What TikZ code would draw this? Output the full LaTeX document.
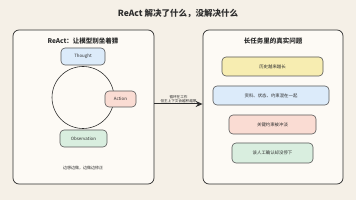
\documentclass[tikz,border=0pt]{standalone}
\usepackage{fontspec}
\setmainfont{Noto Sans CJK SC}
\usepackage{xcolor}
\usetikzlibrary{arrows.meta,positioning,calc}
\definecolor{bg}{HTML}{F5F0E7}
\definecolor{panel}{HTML}{FDFAF5}
\definecolor{ink}{HTML}{2E2E2E}
\definecolor{blu}{HTML}{DCEBFA}
\definecolor{pnk}{HTML}{FADCD3}
\definecolor{grn}{HTML}{D9EEDF}
\definecolor{yel}{HTML}{F7EDB1}
\tikzset{
  pnl/.style   ={draw=ink, line width=0.7pt, rounded corners=6pt, fill=panel},
  hd/.style    ={font=\fontsize{6.5}{7}\selectfont\bfseries, text=ink},
  box/.style   ={draw=ink!80, line width=0.6pt, rounded corners=4pt, font=\fontsize{4.4}{5}\selectfont, text=ink, inner sep=0pt},
  ar/.style    ={-{Stealth[length=7pt,width=6pt]}, line width=1pt, draw=ink},
}
\begin{document}
\begin{tikzpicture}[x=1pt,y=-1pt]
\fill[bg] (0,0) rectangle (356,200);
\useasboundingbox (0,0) rectangle (356,200);
\node[font=\fontsize{8.5}{9}\selectfont\bfseries, text=ink] (title) at (178,14) {ReAct 解决了什么，没解决什么};
% left panel
\node[pnl, minimum width=141pt, minimum height=154pt] (left) at (83.5,107) {};
\node[hd] (lhd) at (83,41) {ReAct：让模型别坐着猜};
\draw[ink, line width=0.6pt] (83,97.5) circle (31pt);
\node[box, fill=blu, minimum width=44pt, minimum height=17pt] (thought) at (83,56.5) {Thought};
\node[box, fill=pnk, minimum width=31pt, minimum height=16pt] (action) at (120.5,99) {Action};
\node[box, fill=grn, minimum width=47pt, minimum height=17pt] (obs) at (83.5,138.5) {Observation};
\node[font=\fontsize{4}{5}\selectfont, text=ink] (lnote) at (83,168) {边想边做，边做边修正};
% right panel
\node[pnl, minimum width=140pt, minimum height=154pt] (right) at (273,107) {};
\node[hd] (rhd) at (273,41) {长任务里的真实问题};
\node[box, fill=yel, minimum width=101pt, minimum height=19pt] (p1) at (272.5,66.5) {历史越来越长};
\node[box, fill=blu, minimum width=116pt, minimum height=19pt] (p2) at (271,95.5) {资料、状态、约束混在一起};
\node[box, fill=pnk, minimum width=87pt, minimum height=19pt] (p3) at (272.5,124.5) {关键约束被冲淡};
\node[box, fill=grn, minimum width=81pt, minimum height=20pt] (p4) at (272.5,153) {该人工确认却没停下};
% connector
\draw[ar] ([yshift=3pt]left.east) -- node[above, font=\fontsize{3.6}{4.6}\selectfont, text=ink, align=center, inner sep=0.6pt] (lbl) {循环在工作\\但主上下文会越积越厚} ([yshift=3pt]right.west);
\end{tikzpicture}
\end{document}
